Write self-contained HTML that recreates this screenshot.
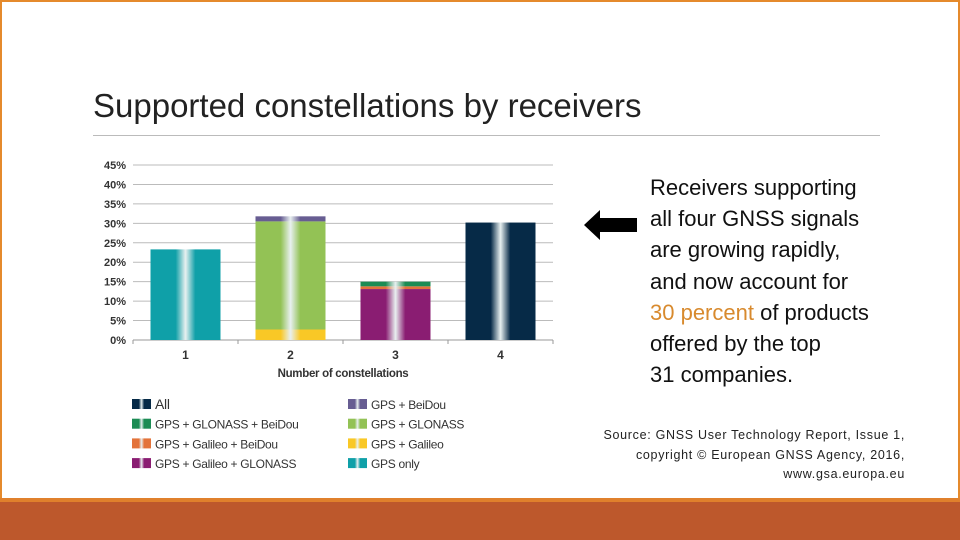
<!DOCTYPE html>
<html><head><meta charset="utf-8"><style>
body{margin:0;width:960px;height:540px;position:relative;overflow:hidden;background:#fff;font-family:"Liberation Sans",sans-serif}
.frame{position:absolute;left:0;top:0;width:956px;height:496px;border:2px solid #e58a2c;border-bottom:none}
.band{position:absolute;left:0;top:498px;width:960px;height:42px;background:#bd582c;border-top:4px solid #e0802c;box-sizing:border-box}
.title{position:absolute;left:93px;top:87px;font-size:33px;letter-spacing:0px;color:#222;white-space:nowrap}
.rule{position:absolute;left:93px;top:135px;width:787px;height:1px;background:#bbb}
.msg{position:absolute;left:650px;top:172px;font-size:22px;line-height:31.2px;letter-spacing:0px;color:#111;white-space:nowrap}
.src{position:absolute;right:55px;top:426px;text-align:right;font-size:12.5px;line-height:19.5px;color:#222;letter-spacing:0.7px;white-space:nowrap}
</style></head><body>
<div class="frame"></div>
<div class="band"></div>
<div class="title">Supported constellations by receivers</div>
<div class="rule"></div>
<div class="msg">Receivers supporting<br>all four GNSS signals<br>are growing rapidly,<br>and now account for<br><span style="color:#d88a2e">30 percent</span> of products<br>offered by the top<br>31 companies.</div>
<div class="src">Source: GNSS User Technology Report, Issue 1,<br>copyright © European GNSS Agency, 2016,<br>www.gsa.europa.eu</div>
<svg width="960" height="540" style="position:absolute;left:0;top:0">
<polygon points="584,225 600,210 600,218 637,218 637,232 600,232 600,240" fill="#000"/>
<g id="g"></g>
</svg>
<script>
const categories=["1","2","3","4"];
const ticks=[0,5,10,15,20,25,30,35,40,45];
const seriesNames=["GPS only","GPS + Galileo","GPS + GLONASS","GPS + BeiDou","GPS + Galileo + GLONASS","GPS + Galileo + BeiDou","GPS + GLONASS + BeiDou","All"];
const colors=["#0fa0a8","#f9c826","#93c255","#675d92","#8a1d72","#e3733a","#1c8c54","#062a47"];
const gpsOnly=[23.3,0,0,0];
const gpsGalileo=[0,2.7,0,0];
const gpsGlonass=[0,27.8,0,0];
const gpsBeidou=[0,1.3,0,0];
const gpsGalGlo=[0,0,13.1,0];
const gpsGalBei=[0,0,0.7,0];
const gpsGloBei=[0,0,1.2,0];
const allFour=[0,0,0,30.2];
const series=[gpsOnly,gpsGalileo,gpsGlonass,gpsBeidou,gpsGalGlo,gpsGalBei,gpsGloBei,allFour];
const NS="http://www.w3.org/2000/svg";
const g=document.getElementById('g');
const x0=133,x1=553,yb=340,yt=165;
const y=v=>yb-(v/45)*(yb-yt);
const band=(x1-x0)/categories.length;
const xc=i=>x0+band*(i+0.5);
const bw=70;
function mk(t,a){const e=document.createElementNS(NS,t);for(const k in a)e.setAttribute(k,a[k]);g.appendChild(e);return e;}
const defs=mk('defs',{});
colors.forEach((c,i)=>{const lg=document.createElementNS(NS,'linearGradient');lg.setAttribute('id','gr'+i);
[[0,c],[0.36,c],[0.5,'#e8f0f0'],[0.64,c],[1,c]].forEach(([o,col])=>{const s=document.createElementNS(NS,'stop');s.setAttribute('offset',o);s.setAttribute('stop-color',col);lg.appendChild(s);});defs.appendChild(lg);});
ticks.forEach(t=>{
const l=mk('line',{x1:x0,x2:x1,y1:y(t),y2:y(t),stroke:t===0?'#999':'#bbb','stroke-width':1});


const tx=mk('text',{x:126,y:y(t)+4,'text-anchor':'end','font-size':11,'font-weight':'bold',fill:'#333'});tx.textContent=t+'%';


});
for(let i=0;i<=categories.length;i++){mk('line',{x1:x0+band*i,x2:x0+band*i,y1:yb,y2:yb+4,stroke:'#999'});}
categories.forEach((c,i)=>{
let acc=0;
series.forEach((s,k)=>{const v=s[i];if(!v)return;
const r=mk('rect',{x:xc(i)-bw/2,y:y(acc+v),width:bw,height:y(acc)-y(acc+v),fill:'url(#gr'+k+')'});


acc+=v;});
const tx=mk('text',{x:xc(i),y:359,'text-anchor':'middle','font-size':12,'font-weight':'bold',fill:'#333'});tx.textContent=c;


});
const xt=mk('text',{x:343,y:377,'text-anchor':'middle','font-size':11.5,'font-weight':'bold',fill:'#333','letter-spacing':'-0.3'});xt.textContent='Number of constellations';


const legendOrder=[7,3,6,2,5,1,4,0];
legendOrder.forEach((k,j)=>{const col=j%2,row=Math.floor(j/2);
const lx=col?348:132,ly=404+row*19.7;
mk('rect',{x:lx,y:ly-5,width:19,height:10,fill:'url(#gr'+k+')'});
const tx=mk('text',{x:lx+23,y:ly+5,'font-size':k===7?14:12,fill:'#333','letter-spacing':'-0.3'});tx.textContent=k===7?'All':seriesNames[k];


});
</script>
</body></html>
